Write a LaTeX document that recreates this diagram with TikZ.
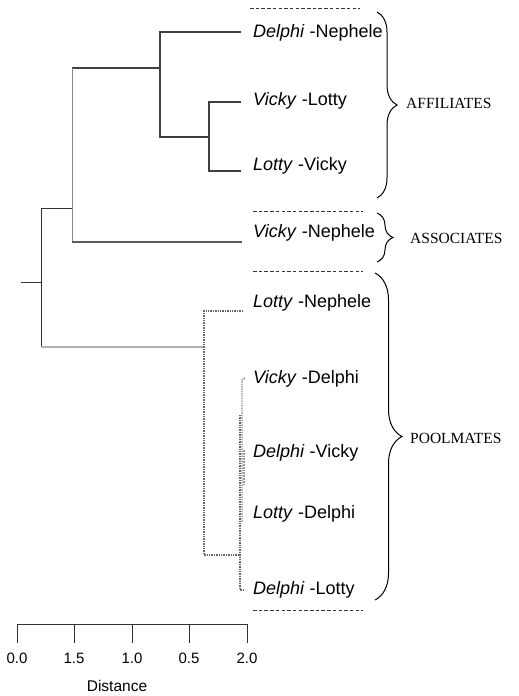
\documentclass[tikz,border=0pt]{standalone}
\usepackage{fontspec}
\setmainfont{Liberation Sans}
\newfontfamily\grpfont{Liberation Serif}
\usepackage{tikz}
\usetikzlibrary{arrows.meta, positioning, decorations.pathreplacing}

\begin{document}
\begin{tikzpicture}[
    x=1pt, y=-1pt,
    font=\fontsize{18}{21}\selectfont,
    leaf/.style={anchor=west, inner sep=0pt},
    group/.style={anchor=west, inner sep=0pt, font=\grpfont\fontsize{15.5}{18}\selectfont},
    affil/.style={line width=2.8pt, draw=black!75},
    assoc/.style={line width=2pt, draw=black!65},
    trunk/.style={line width=0.7pt, draw=black!80},
    lightbranch/.style={line width=1.4pt, draw=black!30},
    pool/.style={line width=1.4pt, draw=black!60, densely dotted},
    sep/.style={line width=1pt, draw=black!80, dash pattern=on 3.5pt off 2.2pt},
    grpbrace/.style={decorate, line width=1pt, draw=black,
        decoration={brace, amplitude=#1}}
]
\useasboundingbox (0,0) rectangle (519,696);

% Pair labels
\node[leaf] (dn) at (253,33)  {\textit{Delphi} -Nephele};
\node[leaf] (vl) at (253,101) {\textit{Vicky} -Lotty};
\node[leaf] (lv) at (253,166) {\textit{Lotty} -Vicky};
\node[leaf] (vn) at (253,233) {\textit{Vicky} -Nephele};
\node[leaf] (ln) at (253,303) {\textit{Lotty} -Nephele};
\node[leaf] (vd) at (253,379) {\textit{Vicky} -Delphi};
\node[leaf] (dv) at (253,453) {\textit{Delphi} -Vicky};
\node[leaf] (ld) at (253,514) {\textit{Lotty} -Delphi};
\node[leaf] (dl) at (253,590) {\textit{Delphi} -Lotty};

% Group labels
\node[group] (affiliates) at (406,103) {AFFILIATES};
\node[group] (associates) at (410,238) {ASSOCIATES};
\node[group] (poolmates)  at (410,438) {POOLMATES};

% Separators between groups
\draw[sep] (250,8) -- (360,8);
\draw[sep] (253,211) -- (363,211);
\draw[sep] (253,271) -- (363,271);
\draw[sep] (253,610) -- (363,610);

% Braces
\draw[grpbrace=20pt] (377,12) -- (377,198);
\draw[grpbrace=16pt] (377,213) -- (377,262);
\draw[grpbrace=27pt] (375,273) -- (375,600);

% Leaf ends
\coordinate (edn) at (241,32);
\coordinate (evl) at (241,102);
\coordinate (elv) at (241,171);
\coordinate (evn) at (242,242);
\coordinate (eln) at (243,311);
\coordinate (evd) at (245,378);
\coordinate (edl) at (245,590);

% Junctions
\coordinate (jroot) at (41,282);
\coordinate (jtop) at (72,208);
\coordinate (jaff) at (160,68);
\coordinate (jvl) at (209,137);
\coordinate (jpool) at (204,347);
\coordinate (jdel) at (240,555);

% Affiliates
\draw[affil] (edn) -- (160,32) -- (160,137) -- (jvl);
\draw[affil] (evl) -- (209,102) -- (209,171) -- (elv);
\draw[affil] (72,68) -- (jaff);

% Associates
\draw[trunk, draw=black!45] (72,68) -- (72,242);
\draw[assoc] (72,242) -- (evn);

% Root
\draw[trunk] (21,282) -- (jroot);
\draw[trunk] (jtop) -- (41,208) -- (41,347);
\draw[lightbranch] (41,347) -- (jpool);

% Poolmates
\draw[pool] (eln) -- (204,311) -- (204,555) -- (jdel);
\draw[pool] (240,415) -- (240,590) -- (edl);
\draw[pool, draw=black!45] (evd) -- (242,380) -- (242,522);
\draw[line width=1.8pt, draw=black!40, densely dotted] (244,450) -- (244,486);

% Distance axis
\draw[trunk, line width=0.9pt] (17,643) -- (17,624) -- (247,624) -- (247,643);
\foreach \x/\lab in {17/0.0, 74/1.5, 132/1.0, 189/0.5, 247/2.0}{
    \draw[trunk, line width=0.9pt] (\x,624) -- (\x,643);
    \node[font=\fontsize{15}{17}\selectfont] (tick\x) at (\x,658) {\lab};
}
\node[font=\fontsize{15.5}{18}\selectfont] (axislabel) at (117,686) {Distance};

\end{tikzpicture}
\end{document}
